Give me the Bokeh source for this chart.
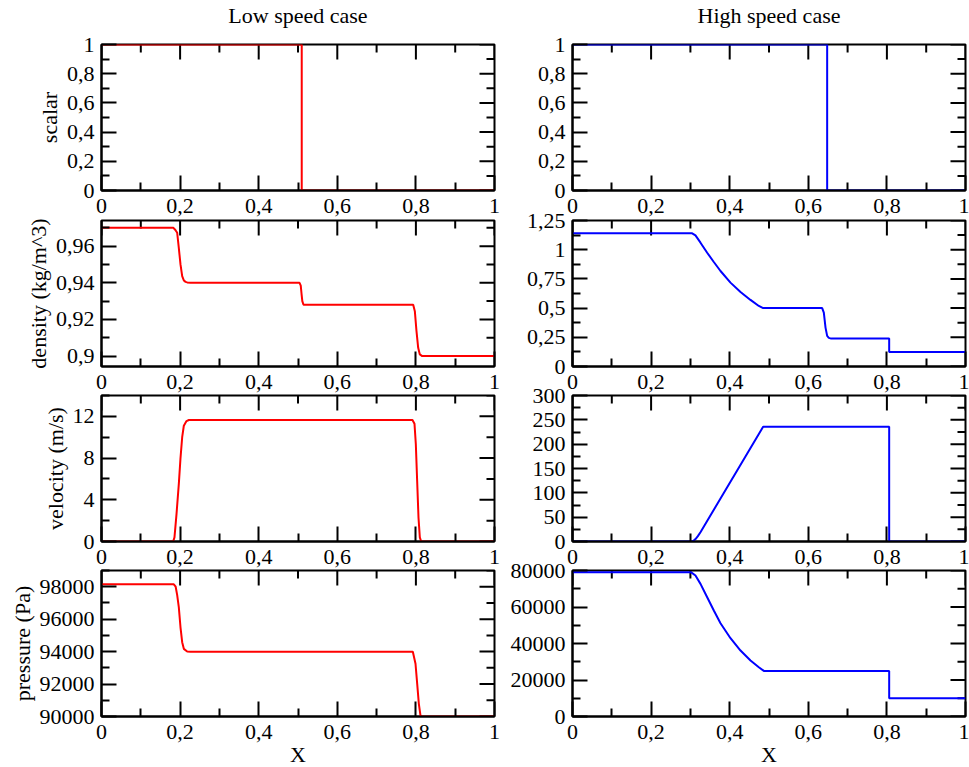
import math
from bokeh.plotting import figure
from bokeh.layouts import column, row
from bokeh.models import LinearAxis, FixedTicker, CustomJSTickFormatter, Range1d
from bokeh.embed import file_html
from bokeh.resources import INLINE

# ---------------- data ----------------
x_ticks = [0, 0.2, 0.4, 0.6, 0.8, 1.0]
x_minor = [0.1, 0.3, 0.5, 0.7, 0.9]

# Low speed case (red)
x_scalar_low = [0, 0.5095, 0.5095, 1.0]
scalar_low = [1, 1, 0, 0]

x_rho_low = [0, 0.183, 0.188, 0.1926, 0.1967, 0.201, 0.2053, 0.2095, 0.214, 0.218, 0.2265,
             0.504, 0.507, 0.509, 0.511, 0.514,
             0.7931, 0.7973, 0.8015, 0.8058, 0.81, 0.816, 1.0]
rho_low = [0.97, 0.97, 0.9688, 0.9673, 0.9591, 0.950, 0.9436, 0.9413, 0.9405, 0.9402, 0.94,
           0.94, 0.9385, 0.934, 0.930, 0.928,
           0.928, 0.9245, 0.9136, 0.9045, 0.9009, 0.9, 0.9]

x_u_low = [0, 0.1823, 0.1857, 0.1908, 0.1967, 0.201, 0.2053, 0.2095, 0.2163, 0.2223,
           0.7913, 0.7964, 0.7998, 0.8032, 0.8066, 0.81, 0.8134, 1.0]
u_low = [0, 0, 0.4, 2.6, 5.5, 8.0, 10.0, 11.1, 11.55, 11.65,
         11.65, 11.3, 9.35, 5.8, 2.3, 0.4, 0, 0]

x_p_low = [0, 0.184, 0.1887, 0.1925, 0.1967, 0.201, 0.2053, 0.2095, 0.218, 0.2265,
           0.7922, 0.799, 0.8033, 0.8075, 0.8117, 0.816, 1.0]
p_low = [98150, 98150, 98000, 97500, 96740, 95500, 94580, 94170, 94010, 93990,
         93990, 93250, 92015, 90780, 90060, 90000, 90000]

# High speed case (blue)
x_scalar_high = [0, 0.648, 0.648, 1.0]
scalar_high = [1, 1, 0, 0]

x_rho_high = [0, 0.3045, 0.3129, 0.3257, 0.3427, 0.3596, 0.3766, 0.402, 0.4275, 0.4529,
              0.4741, 0.4851, 0.6353, 0.6395, 0.6438, 0.648, 0.6522, 0.6582, 0.8058, 0.8058, 1.0]
rho_high = [1.14, 1.14, 1.1225, 1.06, 0.974, 0.8946, 0.8177, 0.718, 0.638, 0.570,
            0.5185, 0.5, 0.5, 0.4615, 0.333, 0.262, 0.245, 0.239, 0.239, 0.125, 0.125]

x_u_high = [0, 0.303, 0.308, 0.313, 0.319, 0.326, 0.4851, 0.8058, 0.8058, 1.0]
u_high = [0, 0, 1.5, 5, 11, 19.5, 236, 236, 0, 0]

x_p_high = [0, 0.302, 0.3129, 0.3257, 0.3427, 0.3596, 0.3766, 0.402, 0.4275, 0.4529,
            0.4741, 0.4868, 0.8058, 0.8058, 1.0]
p_high = [79000, 79000, 77240, 72680, 65370, 58070, 51130, 42910, 36150, 30680,
          27020, 25000, 25000, 10000, 10000]

# axis specifications
ylabels = ["scalar", "density (kg/m^3)", "velocity (m/s)", "pressure (Pa)"]
titles = ["Low speed case", "High speed case"]
xlabel = "X"

yrange_low = [(0, 1), (0.8943, 0.974), (0, 14), (90000, 99000)]
yticks_low = [[0, 0.2, 0.4, 0.6, 0.8, 1], [0.9, 0.92, 0.94, 0.96], [0, 4, 8, 12],
              [90000, 92000, 94000, 96000, 98000]]
yminor_low = [[0.1, 0.3, 0.5, 0.7, 0.9], [0.91, 0.93, 0.95, 0.97], [2, 6, 10, 14],
              [91000, 93000, 95000, 97000, 99000]]

yrange_high = [(0, 1), (0, 1.25), (0, 300), (0, 80000)]
yticks_high = [[0, 0.2, 0.4, 0.6, 0.8, 1], [0, 0.25, 0.5, 0.75, 1, 1.25],
               [0, 50, 100, 150, 200, 250, 300], [0, 20000, 40000, 60000, 80000]]
yminor_high = [[0.1, 0.3, 0.5, 0.7, 0.9], [0.125, 0.375, 0.625, 0.875, 1.125],
               [25, 75, 125, 175, 225, 275], [10000, 30000, 50000, 70000]]

series_low = [(x_scalar_low, scalar_low), (x_rho_low, rho_low), (x_u_low, u_low), (x_p_low, p_low)]
series_high = [(x_scalar_high, scalar_high), (x_rho_high, rho_high), (x_u_high, u_high),
               (x_p_high, p_high)]

# ---------------- styling ----------------
FONT = "Liberation Serif"
FS = "22px"
FMT = "const v = Math.round(tick*100000)/100000; return v.toString().replace('.', ',');"
MAJOR_LEN = 15
MINOR_LEN = 8


def style_axis(ax, ticks, minor):
    ax.ticker = FixedTicker(ticks=ticks, minor_ticks=minor)
    ax.formatter = CustomJSTickFormatter(code=FMT)
    ax.axis_line_color = "black"
    ax.axis_line_width = 2
    ax.major_tick_in = MAJOR_LEN
    ax.major_tick_out = 0
    ax.minor_tick_in = MINOR_LEN
    ax.minor_tick_out = 0
    ax.major_tick_line_width = 2
    ax.minor_tick_line_width = 2
    ax.major_tick_line_color = "black"
    ax.minor_tick_line_color = "black"
    ax.major_label_text_font = FONT
    ax.major_label_text_font_size = FS
    ax.major_label_text_color = "black"
    ax.axis_label_text_font = FONT
    ax.axis_label_text_font_size = FS
    ax.axis_label_text_font_style = "normal"
    ax.axis_label_text_color = "black"


def mirror_ticks(p, yr, yt, ym):
    # inward ticks on the top and right edges of the frame
    p.ray(x=x_ticks, y=[yr[1]] * len(x_ticks), length=MAJOR_LEN, angle=-math.pi / 2,
          length_units="screen", line_color="black", line_width=2)
    p.ray(x=x_minor, y=[yr[1]] * len(x_minor), length=MINOR_LEN, angle=-math.pi / 2,
          length_units="screen", line_color="black", line_width=2)
    p.ray(x=[1.0] * len(yt), y=yt, length=MAJOR_LEN, angle=math.pi,
          length_units="screen", line_color="black", line_width=2)
    p.ray(x=[1.0] * len(ym), y=ym, length=MINOR_LEN, angle=math.pi,
          length_units="screen", line_color="black", line_width=2)


def make_panel(col, ri, xs, ys, color, yr, yt, ym):
    left = col == 0
    top = ri == 0
    bottom = ri == 3
    p = figure(frame_width=393, frame_height=146, output_backend="svg", toolbar_location=None,
               x_range=Range1d(0, 1), y_range=Range1d(*yr),
               x_axis_type=None, y_axis_type=None,
               min_border_left=101 if left else 66, min_border_right=12 if left else 4,
               min_border_top=60 if top else 13, min_border_bottom=51 if bottom else 30,
               border_fill_color=None, outline_line_color="black", outline_line_width=2,
               background_fill_color="white",
               title=titles[col] if top else None)
    if top:
        p.title.align = "center"
        p.title.text_font = FONT
        p.title.text_font_size = FS
        p.title.text_font_style = "normal"
        p.title.text_color = "black"
        p.title.standoff = 33
    p.xgrid.visible = False
    p.ygrid.visible = False

    bx = LinearAxis()
    style_axis(bx, x_ticks, x_minor)
    bx.major_label_standoff = 8
    if bottom:
        bx.axis_label = xlabel
        bx.axis_label_standoff = 0
    p.add_layout(bx, "below")

    ly = LinearAxis()
    style_axis(ly, yt, ym)
    ly.major_label_standoff = 7
    if left:
        ly.axis_label = ylabels[ri]
        ly.axis_label_standoff = 2
    p.add_layout(ly, "left")

    mirror_ticks(p, yr, yt, ym)
    p.line(xs, ys, line_color=color, line_width=2)
    return p


rows = []
margins = [(-16, 0, 0, 0), (-13, 0, 0, 0), (-14, 0, 0, 0), (-14, 0, 0, 0)]
for i in range(4):
    pl = make_panel(0, i, series_low[i][0], series_low[i][1], "#ff0000",
                    yrange_low[i], yticks_low[i], yminor_low[i])
    ph = make_panel(1, i, series_high[i][0], series_high[i][1], "#0000ff",
                    yrange_high[i], yticks_high[i], yminor_high[i])
    rows.append(row(pl, ph, margin=margins[i]))

layout = column(*rows)
open("out.html", "w").write(file_html(layout, INLINE))
